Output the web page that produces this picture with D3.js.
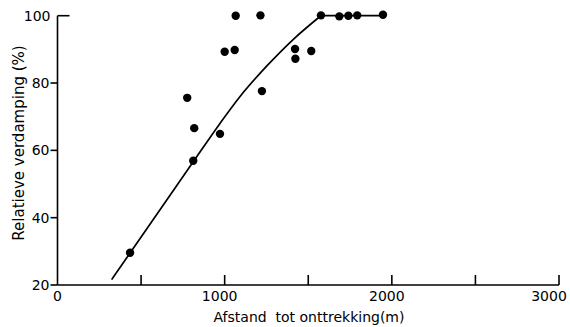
<!DOCTYPE html>
<html><head><meta charset="utf-8">
<script src="https://cdn.jsdelivr.net/npm/d3@7"></script>
<style>body{margin:0;background:#fff}svg{display:block}</style>
</head><body>
<svg id="c" width="570" height="327"></svg>
<script>
// Data
const pointX = [434, 776, 818, 812, 972, 1000, 1060, 1066, 1214, 1223, 1421, 1423, 1518, 1576, 1686, 1740, 1793, 1947];
const pointY = [29.6, 75.6, 66.6, 56.9, 64.9, 89.3, 89.8, 100, 100.1, 77.6, 90.1, 87.2, 89.5, 100.1, 99.8, 100, 100.1, 100.3];
const curveX = [324, 434, 812, 972, 1092, 1251, 1411, 1576];
const curveY = [21.6, 29.5, 56.6, 68.0, 76.0, 85.0, 93.0, 100.0];
const plateauX = [1576, 1947];
const plateauY = [100, 100];
const xTicks = [0, 1000, 2000, 3000];
const xMinorTicks = [500, 1000, 1500, 2000, 2500, 3000];
const yTicks = [20, 40, 60, 80, 100];
const xTitle = "Afstand  tot onttrekking(m)";
const yTitle = "Relatieve verdamping (%)";

const svg = d3.select("#c");
const x = d3.scaleLinear().domain([0, 3000]).range([57.5, 559]);
const y = d3.scaleLinear().domain([20, 100]).range([285, 15.7]);
const font = "'DejaVu Sans', sans-serif";

// axes lines
svg.append("line").attr("x1", x(0)).attr("x2", x(3000)).attr("y1", y(20)).attr("y2", y(20))
  .attr("stroke", "#000").attr("stroke-width", 1.6);
svg.append("line").attr("x1", x(0)).attr("x2", x(0)).attr("y1", y(20)).attr("y2", y(100))
  .attr("stroke", "#000").attr("stroke-width", 1.6);

// x ticks (inward, upward)
svg.selectAll(".xt").data(xMinorTicks).join("line")
  .attr("x1", d => x(d)).attr("x2", d => x(d))
  .attr("y1", y(20)).attr("y2", y(20) - 10)
  .attr("stroke", "#000").attr("stroke-width", 1.6);
svg.selectAll(".xl").data(xTicks).join("text")
  .attr("x", d => x(d) - (d === 3000 ? 10 : d === 0 ? 0 : 5)).attr("y", 301)
  .attr("text-anchor", "middle").attr("font-family", font).attr("font-size", 14)
  .text(d => d);

// y ticks (outward, left), top one inward (right)
svg.selectAll(".yt").data(yTicks).join("line")
  .attr("x1", d => d === 100 ? x(0) + 12 : x(0) - 7).attr("x2", x(0))
  .attr("y1", d => y(d)).attr("y2", d => y(d))
  .attr("stroke", "#000").attr("stroke-width", 1.6);
svg.selectAll(".yl").data(yTicks).join("text")
  .attr("x", d => d === 100 ? x(0) - 7 : x(0) - 8).attr("y", d => y(d) + 5)
  .attr("text-anchor", "end").attr("font-family", font).attr("font-size", 14)
  .text(d => d);

// titles
svg.append("text").attr("x", 309).attr("y", 321.5).attr("text-anchor", "middle")
  .attr("font-family", font).attr("font-size", 14).attr("xml:space", "preserve")
  .style("white-space", "pre").text(xTitle);
svg.append("text").attr("transform", "translate(24,143) rotate(-90)").attr("text-anchor", "middle")
  .attr("font-family", font).attr("font-size", 15).text(yTitle);

// curve
const line = d3.line().x(d => x(d[0])).y(d => y(d[1])).curve(d3.curveMonotoneX);
svg.append("path").datum(curveX.map((v, i) => [v, curveY[i]]))
  .attr("d", line).attr("fill", "none").attr("stroke", "#000").attr("stroke-width", 1.7);
svg.append("path").datum(plateauX.map((v, i) => [v, plateauY[i]]))
  .attr("d", d3.line().x(d => x(d[0])).y(d => y(d[1]))).attr("fill", "none")
  .attr("stroke", "#000").attr("stroke-width", 1.7);

// points
svg.selectAll(".pt").data(pointX.map((v, i) => [v, pointY[i]])).join("circle")
  .attr("cx", d => x(d[0])).attr("cy", d => y(d[1])).attr("r", 4.2).attr("fill", "#000");
</script>
</body></html>
